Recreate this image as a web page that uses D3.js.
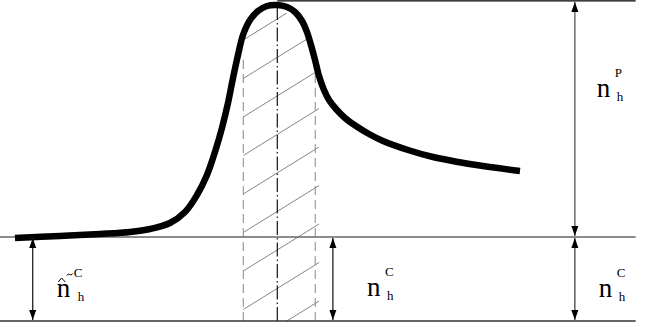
<!DOCTYPE html>
<meta charset="utf-8">
<style>
    body { margin: 0; background: #fff; }
    .big { font-family: "Liberation Serif", serif; font-size: 27px; fill: #000; }
    .small { font-family: "Liberation Serif", serif; font-size: 13px; fill: #000; }
</style>
<body>
<svg></svg>
<script src="https://d3js.org/d3.v7.min.js"></script>
<script type='text/javascript'>

    var w = 654,
        h = 327;

    // peak profile: position (arbitrary units) vs height (1 unit = n_h^C band)
    var curveX = [2.29, 9.17, 15.29, 19.88, 22.94, 25.99, 28.29, 30.12, 31.65, 32.87, 33.94, 34.86,
                  35.63, 36.39, 37.16, 38.23, 39.45, 40.83, 42.35, 43.88, 45.11, 46.18, 46.94, 47.55,
                  48.17, 48.78, 49.54, 50.31, 51.38, 52.75, 54.43, 56.42, 58.56, 62.39, 66.21, 70.03, 73.85, 79.51];
    var curveY = [-0.012, 0.012, 0.036, 0.060, 0.095, 0.167, 0.298, 0.500, 0.738, 1.012, 1.298, 1.595,
                  1.893, 2.167, 2.405, 2.583, 2.690, 2.750, 2.762, 2.738, 2.679, 2.571, 2.440, 2.286,
                  2.107, 1.917, 1.750, 1.631, 1.524, 1.417, 1.321, 1.226, 1.143, 1.036, 0.952, 0.893, 0.845, 0.786];

    var band = [37.2, 48.2];      // hatched peak window
    var bandTop = [2.17, 2.04];   // where the dashed edges start
    var peakX = 42.4;
    var peakTop = 2.81;
    var lineEnd = 97.2;
    var arrowX = [5.0, 50.9, 87.9];

    var x = d3.scaleLinear().domain([0, 100]).range([0, 654]);
    var y = d3.scaleLinear().domain([-1, 0]).range([321, 237]);

    var svg = d3.select('svg')
        .attr('width', w)
        .attr('height', h);

    var defs = svg.append('defs');
    ['start', 'end'].forEach(function(k) {
        defs.append('marker')
            .attr('id', 'arr-' + k)
            .attr('viewBox', '0 -4 10 8')
            .attr('refX', 10)
            .attr('refY', 0)
            .attr('markerUnits', 'userSpaceOnUse')
            .attr('markerWidth', 10)
            .attr('markerHeight', 8)
            .attr('orient', k == 'start' ? 'auto-start-reverse' : 'auto')
            .append('path')
            .attr('d', 'M0,-3.5L10,0L0,3.5Z')
            .attr('fill', '#000');
    });

    var pts = curveX.map(function(d, i) { return [d, curveY[i]]; });
    var line = d3.line()
        .x(function(d) { return x(d[0]); })
        .y(function(d) { return y(d[1]); })
        .curve(d3.curveCatmullRom.alpha(0.5));

    // clip: area under the curve inside the band, down to the bottom line
    var area = d3.area()
        .x(function(d) { return x(d[0]); })
        .y0(y(-1))
        .y1(function(d) { return y(d[1]) + 6; })
        .curve(d3.curveCatmullRom.alpha(0.5));
    defs.append('clipPath').attr('id', 'under')
        .append('path').attr('d', area(pts));
    defs.append('clipPath').attr('id', 'bandclip')
        .append('rect')
        .attr('x', x(band[0]))
        .attr('y', 0)
        .attr('width', x(band[1]) - x(band[0]) + 4)
        .attr('height', y(-1));

    var hatch = svg.append('g').attr('clip-path', 'url(#bandclip)')
        .append('g').attr('clip-path', 'url(#under)');
    var x0 = x(band[0]), x1 = x(band[1]) + 4;
    var slope = 0.62, step = 38.5;
    d3.range(-40, 360, step).forEach(function(yy) {
        hatch.append('line')
            .attr('x1', x0).attr('y1', yy + 80 % step)
            .attr('x2', x1).attr('y2', yy + 80 % step - slope * (x1 - x0))
            .attr('stroke', '#777')
            .attr('stroke-width', 0.9);
    });

    // dashed band edges
    band.forEach(function(b, i) {
        svg.append('line')
            .attr('x1', x(b)).attr('x2', x(b))
            .attr('y1', y(-1)).attr('y2', y(bandTop[i]))
            .attr('stroke', '#888')
            .attr('stroke-width', 1)
            .attr('stroke-dasharray', '9,5');
    });
    svg.append('line')
        .attr('x1', x(peakX)).attr('x2', x(peakX))
        .attr('y1', y(-1)).attr('y2', y(2.76))
        .attr('stroke', '#111')
        .attr('stroke-width', 1.2)
        .attr('stroke-dasharray', '14,3,1.5,3');

    // horizontal lines
    svg.append('line')
        .attr('x1', x(peakX)).attr('x2', x(lineEnd))
        .attr('y1', y(peakTop)).attr('y2', y(peakTop))
        .attr('stroke', '#000').attr('stroke-width', 1.2);
    svg.append('line')
        .attr('x1', 0).attr('x2', x(lineEnd))
        .attr('y1', y(0)).attr('y2', y(0))
        .attr('stroke', '#666').attr('stroke-width', 1.3);
    svg.append('line')
        .attr('x1', 0).attr('x2', x(lineEnd))
        .attr('y1', y(-1)).attr('y2', y(-1))
        .attr('stroke', '#333').attr('stroke-width', 1.6);

    // curve
    svg.append('path')
        .attr('d', line(pts))
        .attr('fill', 'none')
        .attr('stroke', '#000')
        .attr('stroke-width', 6.5)
        .attr('stroke-linecap', 'butt');

    // arrows
    function arrow(xx, ya, yb, col) {
        svg.append('line')
            .attr('x1', x(xx)).attr('x2', x(xx))
            .attr('y1', y(ya) + 1).attr('y2', y(yb) - 1)
            .attr('stroke', col)
            .attr('stroke-width', 1.3)
            .attr('marker-start', 'url(#arr-start)')
            .attr('marker-end', 'url(#arr-end)');
    }
    arrow(arrowX[0], 0, -1, '#222');
    arrow(arrowX[1], 0, -1, '#222');
    arrow(arrowX[2], 0, -1, '#444');
    arrow(arrowX[2], peakTop, 0, '#555');

    // labels
    function label(px, py, sup, tilde) {
        var g = svg.append('g').attr('transform', 'translate(' + px + ',' + py + ')');
        g.append('text').attr('class', 'big').attr('x', 0).attr('y', 0).text('n');
        g.append('text').attr('class', 'small').attr('x', tilde ? 17 : 18).attr('y', -20).text(sup);
        g.append('text').attr('class', 'small').attr('x', tilde ? 21 : 20).attr('y', 4).text('h');
        if (tilde) {
            g.append('path')
                .attr('d', 'M1.5,-15L5,-19L8.5,-15')
                .attr('fill', 'none').attr('stroke', '#000').attr('stroke-width', 1);
            g.append('path')
                .attr('d', 'M10,-21.5Q11.5,-24 13,-22.5T16,-23.5')
                .attr('fill', 'none').attr('stroke', '#000').attr('stroke-width', 1);
        }
    }
    label(x(arrowX[0]) + 24, 297, 'C', true);
    label(x(arrowX[1]) + 34, 296, 'C', false);
    label(x(arrowX[2]) + 24, 297, 'C', false);
    label(x(arrowX[2]) + 22, 97, 'P', false);

</script>
